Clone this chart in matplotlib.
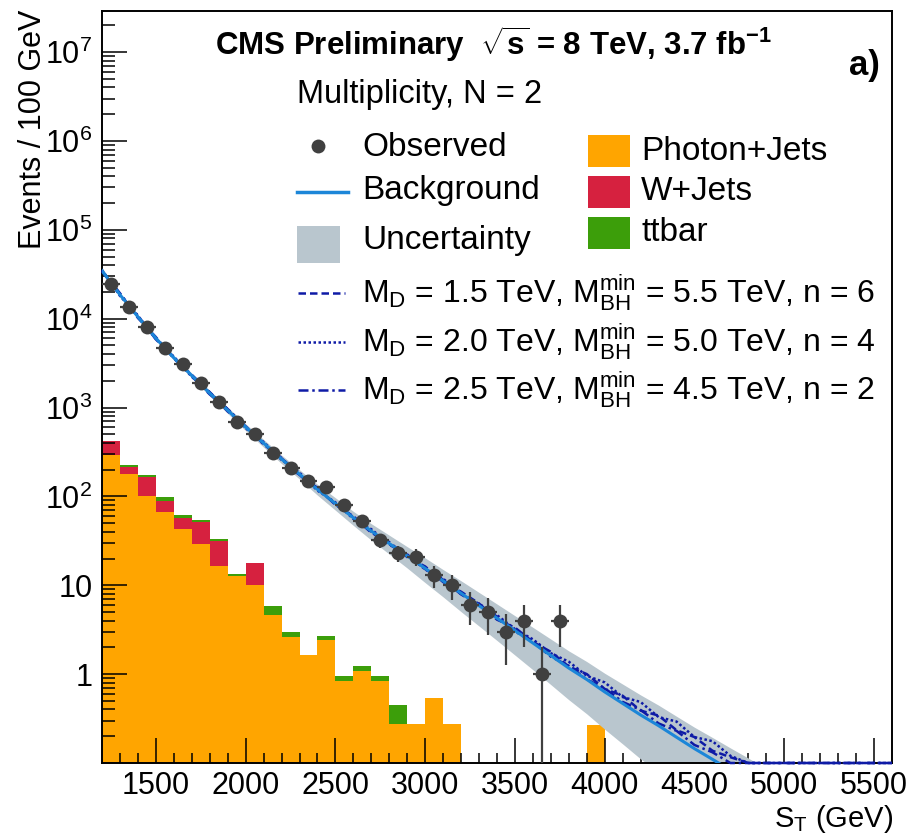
import numpy as np
import matplotlib
matplotlib.use("Agg")
import matplotlib.pyplot as plt
from matplotlib.lines import Line2D
from matplotlib.patches import Rectangle
from matplotlib.ticker import FixedLocator, FixedFormatter, NullFormatter

plt.rcParams['font.family'] = ['Liberation Sans', 'DejaVu Sans']
plt.rcParams['mathtext.fontset'] = 'custom'
plt.rcParams['mathtext.rm'] = 'Liberation Sans'
plt.rcParams['mathtext.bf'] = 'Liberation Sans:bold'
plt.rcParams['mathtext.default'] = 'regular'

# ---- S_T binning (100 GeV bins) ----
bin_edges = list(range(1200, 4100, 100))            # 1200 ... 4000

# Stacked MC backgrounds, events / 100 GeV per bin (1200-1300 ... 3900-4000)
photon_jets = [290, 177, 102, 66, 43, 29, 16.4, 12.8, 10.0, 4.6,
               2.65, 1.65, 2.44, 0.84, 1.07, 0.84, 0.275, 0.275, 0.54, 0.275,
               0, 0, 0, 0, 0, 0, 0, 0.27]
w_jets = [130, 37, 65, 22, 14, 23, 15.4, 0, 7.8, 0,
          0, 0, 0, 0, 0, 0, 0, 0, 0, 0,
          0, 0, 0, 0, 0, 0, 0, 0]
ttbar = [0, 9, 5, 10, 5, 2, 1.5, 0.6, 0, 1.2,
         0.3, 0, 0.22, 0.12, 0.15, 0.12, 0.17, 0, 0, 0,
         0, 0, 0, 0, 0, 0, 0, 0]

# Observed events at bin centres
obs_st = list(range(1250, 3800, 100))
obs_n = [24500, 13600, 8100, 4730, 3070, 1910, 1165, 693, 499, 310,
         210, 151, 127, 81, 53, 32, 23, 21, 13, 10,
         6, 5, 3, 4, 1, 4]

# Background fit, sampled every 100 GeV
fit_st = list(range(1200, 5700, 100))
fit_bkg = [34700, 18600, 10500, 6030, 3630, 2290, 1450, 933, 603, 398,
           263, 178, 120, 83.2, 57.5, 40.7, 29.5, 21.4, 15.5, 11.2,
           8.13, 5.89, 4.27, 3.09, 2.24, 1.62, 1.17, 0.871, 0.631, 0.468,
           0.347, 0.263, 0.195, 0.145, 0.110, 0.083, 0.063, 0.048, 0.036, 0.027,
           0.021, 0.016, 0.012, 0.009, 0.007]
# Relative uncertainty on the background fit
fit_unc = [0.04, 0.04, 0.05, 0.05, 0.06, 0.06, 0.07, 0.08, 0.09, 0.10,
           0.11, 0.12, 0.14, 0.16, 0.18, 0.21, 0.24, 0.27, 0.31, 0.34,
           0.38, 0.41, 0.44, 0.47, 0.50, 0.53, 0.56, 0.59, 0.62, 0.65,
           0.68, 0.70, 0.72, 0.74, 0.76, 0.78, 0.80, 0.80, 0.80, 0.80,
           0.80, 0.80, 0.80, 0.80, 0.80]

# Signal + background relative to the background fit
sig_md15 = [1.00, 1.04, 0.97, 1.03, 0.98, 1.02, 1.03, 0.97, 1.02, 0.98,
            1.03, 0.97, 1.04, 0.98, 1.02, 0.96, 1.04, 0.97, 1.05, 0.97,
            1.04, 1.06, 0.96, 1.08, 1.03, 1.10, 1.04, 1.15, 1.08, 1.22,
            1.12, 1.30, 1.20, 1.35, 1.25, 1.40, 1.30, 1.30, 1.30, 1.30,
            1.30, 1.30, 1.30, 1.30, 1.30]
sig_md20 = [1.02, 0.97, 1.03, 0.98, 1.03, 0.97, 1.02, 1.03, 0.97, 1.03,
            0.98, 1.04, 0.97, 1.03, 0.97, 1.05, 0.98, 1.04, 0.97, 1.06,
            0.98, 1.05, 1.08, 1.04, 1.10, 1.06, 1.18, 1.10, 1.28, 1.18,
            1.40, 1.25, 1.50, 1.35, 1.60, 1.45, 1.45, 1.45, 1.45, 1.45,
            1.45, 1.45, 1.45, 1.45, 1.45]
sig_md25 = [0.98, 1.02, 1.03, 0.97, 1.02, 0.98, 0.97, 1.03, 1.02, 0.97,
            1.02, 0.98, 1.03, 0.97, 1.04, 0.98, 0.97, 1.03, 0.98, 1.03,
            0.97, 1.02, 1.04, 0.98, 1.03, 0.97, 1.06, 1.00, 1.10, 1.04,
            1.14, 1.06, 1.18, 1.10, 1.20, 1.15, 1.15, 1.15, 1.15, 1.15,
            1.15, 1.15, 1.15, 1.15, 1.15]

C_PHOTON = '#FFA500'
C_WJETS = '#D6213F'
C_TTBAR = '#3C9E0A'
C_UNC = '#B9C6CE'
C_BKG = '#1C86D8'
C_SIG = '#0E1BA6'
C_OBS = '#404040'

YMIN, YMAX = 0.1, 2.9e7
W, H = 911, 836

fig = plt.figure(figsize=(W / 100, H / 100), dpi=100)
ax = fig.add_axes([102 / W, 73 / H, 790 / W, 752 / H])
ax.set_yscale('log')
ax.set_xlim(1200, 5600)
ax.set_ylim(YMIN, YMAX)

# ---- stacked histograms ----
edges = np.array(bin_edges, dtype=float)
base = np.full(len(photon_jets), 1e-3)
for vals, col in [(photon_jets, C_PHOTON), (w_jets, C_WJETS), (ttbar, C_TTBAR)]:
    top = base + np.array(vals, dtype=float)
    ax.stairs(top, edges, baseline=base, fill=True, color=col, lw=0, zorder=1)
    base = top

# ---- background fit with uncertainty band ----
st = np.array(fit_st, dtype=float)
bkg = np.array(fit_bkg)
unc = np.array(fit_unc)
ax.fill_between(st, bkg * (1 - unc), bkg * (1 + unc), color=C_UNC, lw=0, zorder=2)

# ---- signal hypotheses ----
styles = [(sig_md15, (0, (3, 1.6))), (sig_md20, (0, (1, 1))), (sig_md25, (0, (4, 1.5, 1, 1.5)))]
for ratio, ls in styles:
    tot = np.clip(bkg * np.array(ratio), YMIN, None)
    ax.plot(st, tot, color=C_SIG, lw=1.8, ls=ls, zorder=3, clip_on=False)

ax.plot(st, bkg, color=C_BKG, lw=2.2, zorder=4)

# ---- observed data ----
n = np.array(obs_n, dtype=float)
err = np.sqrt(n)
lo = np.where(n - err <= 0, n - 1e-4, err)
ax.errorbar(obs_st, n, xerr=50, yerr=[lo, err], fmt='o', color=C_OBS,
            ms=10, mew=0, elinewidth=1.6, capsize=0, zorder=5)

# ---- axes styling ----
for s in ax.spines.values():
    s.set_linewidth(1.4)
ax.xaxis.set_major_locator(FixedLocator([1500, 2000, 2500, 3000, 3500, 4000, 4500, 5000, 5500]))
ax.xaxis.set_minor_locator(FixedLocator(list(range(1300, 5600, 100))))
ymaj = [1, 10, 1e2, 1e3, 1e4, 1e5, 1e6, 1e7]
ax.yaxis.set_major_locator(FixedLocator(ymaj))
ax.yaxis.set_major_formatter(FixedFormatter(['1', '10', '$10^{2}$', '$10^{3}$', '$10^{4}$',
                                             '$10^{5}$', '$10^{6}$', '$10^{7}$']))
yminor = [m * 10.0 ** e for e in range(-1, 8) for m in range(2, 10)]
ax.yaxis.set_minor_locator(FixedLocator([v for v in yminor if v < YMAX]))
ax.yaxis.set_minor_formatter(NullFormatter())
ax.tick_params(which='both', direction='in', top=False, right=False, width=1.1, labelsize=22)
ax.tick_params(axis='x', which='major', length=18, pad=6)
ax.tick_params(axis='x', which='minor', length=7.5)
ax.tick_params(axis='y', which='major', length=18, pad=7)
ax.tick_params(axis='y', which='minor', length=9)


def P(x, y):
    return (x / W, 1 - y / H)


fig.text(*P(33, 10), 'Events / 100 GeV', rotation=90, ha='center', va='top', fontsize=22)
fig.text(*P(893, 819), 'S$_T$ (GeV)', ha='right', va='center', fontsize=21)

fig.text(*P(215, 44), r'CMS Preliminary  $\mathbf{\sqrt{s}}$ = 8 TeV, 3.7 fb$^{-1}$', ha='left',
         va='center', fontsize=22.5, fontweight='bold')
fig.text(*P(880, 66), 'a)', ha='right', va='center', fontsize=25, fontweight='bold')
fig.text(*P(297, 95), 'Multiplicity, N = 2', ha='left', va='center', fontsize=23.5)

# ---- legend ----
TX = 362
FS = 24
fig.add_artist(Line2D([P(318, 0)[0]], [P(0, 146)[1]], marker='o', ms=10, mew=0,
                      color=C_OBS, ls='none', transform=fig.transFigure))
fig.text(*P(TX, 147), 'Observed', ha='left', va='center', fontsize=FS)
fig.add_artist(Line2D([P(297, 0)[0], P(348, 0)[0]], [P(0, 192)[1]] * 2, color=C_BKG, lw=2.5,
                      transform=fig.transFigure))
fig.text(*P(TX, 190), 'Background', ha='left', va='center', fontsize=FS)
fig.add_artist(Rectangle(P(297, 263), 43 / W, 37 / H, color=C_UNC, lw=0, transform=fig.transFigure))
fig.text(*P(TX, 241), 'Uncertainty', ha='left', va='center', fontsize=FS)

for yy, col, lab in [(151, C_PHOTON, 'Photon+Jets'), (192, C_WJETS, 'W+Jets'), (233, C_TTBAR, 'ttbar')]:
    fig.add_artist(Rectangle(P(588, yy + 16), 42 / W, 32 / H, color=col, lw=0,
                             transform=fig.transFigure))
    fig.text(*P(641, yy), lab, ha='left', va='center', fontsize=FS)

sig_labels = ['M$_D$ = 1.5 TeV, M$_{BH}^{min}$ = 5.5 TeV, n = 6',
              'M$_D$ = 2.0 TeV, M$_{BH}^{min}$ = 5.0 TeV, n = 4',
              'M$_D$ = 2.5 TeV, M$_{BH}^{min}$ = 4.5 TeV, n = 2']
for yy, (ratio, ls), lab in zip([293, 342, 390], styles, sig_labels):
    fig.add_artist(Line2D([P(298, 0)[0], P(345, 0)[0]], [P(0, yy)[1]] * 2, color=C_SIG, lw=1.8,
                          ls=ls, transform=fig.transFigure))
    fig.text(*P(TX, yy), lab, ha='left', va='center', fontsize=23)

fig.savefig('out.png', dpi=100)
